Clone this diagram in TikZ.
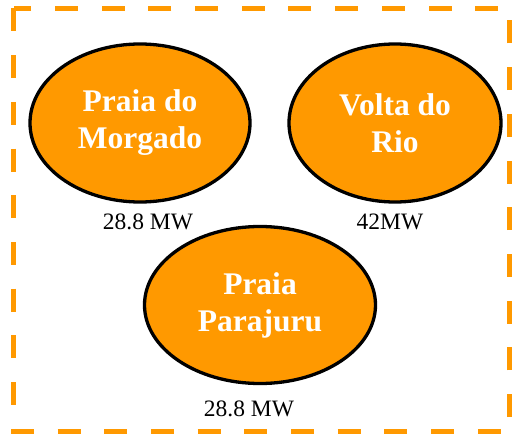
\documentclass[tikz,border=0pt]{standalone}
\usepackage{fontspec}
\setmainfont{Liberation Serif}
\usepackage{tikz}
\usetikzlibrary{shapes.geometric,positioning}
\definecolor{plantorange}{RGB}{255,153,0}

\begin{document}
\begin{tikzpicture}[x=1pt,y=-1pt]
\tikzstyle{plant}=[ellipse,line width=3.3pt,draw=black,fill=plantorange,
inner sep=0pt,outer sep=0pt,align=center,text=white,
font=\fontsize{31.5}{37}\selectfont\bfseries]
\tikzstyle{rating}=[inner sep=0pt,font=\fontsize{23.5}{26}\selectfont]
\tikzstyle{frame}=[draw=plantorange,line width=5.5pt,dash pattern=on 23pt off 23.7pt]

\useasboundingbox (0,0) rectangle (512,436);
\draw[frame] (13.5,8.5) rectangle (510,431.5);

\node[plant,minimum width=220pt,minimum height=158pt] at (140,123) (morgado) {Praia do\\Morgado};
\node[plant,minimum width=212pt,minimum height=158pt] at (395,123) (volta) {Volta do\\Rio};
\node[plant,minimum width=231pt,minimum height=157pt] at (260,305) (parajuru) {Praia\\Parajuru};

\node[rating,below of =morgado,node distance=99pt,xshift=8pt](morgadoMW) {28.8 MW};
\node[rating,below of =volta,node distance=99pt,xshift=-5pt](voltaMW) {42MW};
\node[rating,below of =parajuru,node distance=104pt,xshift=-11pt](parajuruMW) {28.8 MW};

\end{tikzpicture}
\end{document}
